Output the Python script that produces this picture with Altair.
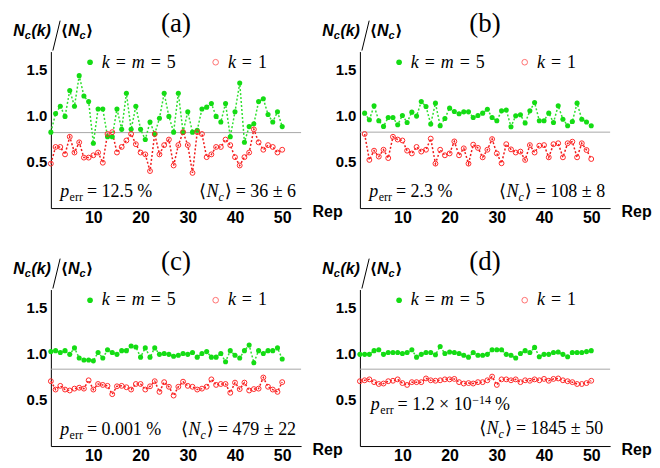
import altair as alt
import pandas as pd

# ---------------- data ----------------
REPS = list(range(1, 51))
REPS_B = list(range(2, 51))

A_GREEN = [0.82, 1.02, 1.10, 0.99, 1.27, 1.10, 1.43, 1.21, 1.15, 0.70,
           1.07, 1.07, 0.77, 0.77, 1.07, 0.85, 1.24, 0.85, 1.10, 0.85,
           0.74, 0.93, 0.80, 0.97, 1.24, 0.99, 0.82, 1.24, 0.82, 1.04,
           0.82, 0.84, 1.07, 1.09, 1.13, 0.99, 0.93, 1.13, 0.77, 1.04,
           1.35, 0.71, 0.88, 0.91, 1.15, 1.18, 1.01, 0.93, 1.04, 0.88]
A_RED = [0.48, 0.66, 0.66, 0.58, 0.77, 0.60, 0.71, 0.545, 0.545, 0.57,
         0.60, 0.49, 0.80, 0.82, 0.60, 0.66, 0.73, 0.80, 0.69, 0.60,
         0.58, 0.40, 0.80, 0.58, 0.68, 0.74, 0.46, 0.68, 0.82, 0.68,
         0.38, 0.82, 0.80, 0.55, 0.58, 0.66, 0.66, 0.74, 0.68, 0.55,
         0.46, 0.55, 0.60, 0.85, 0.71, 0.63, 0.68, 0.66, 0.60, 0.63]

B_GREEN = [1.025, 0.953, 1.104, 0.943, 0.882, 0.978, 0.978, 0.90, 1.0, 0.925,
           1.036, 0.993, 1.15, 1.097, 0.907, 1.133, 0.889, 0.968, 1.079, 1.043,
           1.018, 1.039, 1.039, 0.978, 1.0, 1.025, 1.068, 0.978, 0.943, 1.05,
           1.06, 0.878, 0.996, 1.007, 0.918, 1.05, 1.14, 0.943, 0.943, 1.025,
           0.925, 1.104, 0.96, 0.889, 0.935, 1.133, 0.96, 0.93, 0.889]
B_RED = [0.80, 0.52, 0.62, 0.556, 0.63, 0.54, 0.77, 0.74, 0.73, 0.62,
         0.59, 0.66, 0.61, 0.63, 0.75, 0.48, 0.63, 0.57, 0.59, 0.72,
         0.57, 0.645, 0.48, 0.685, 0.65, 0.548, 0.63, 0.745, 0.59, 0.484,
         0.69, 0.634, 0.60, 0.61, 0.52, 0.68, 0.60, 0.674, 0.68, 0.548,
         0.69, 0.70, 0.548, 0.70, 0.717, 0.548, 0.70, 0.627, 0.53]

C_GREEN = [1.02, 1.03, 1.01, 1.03, 0.99, 1.06, 0.95, 0.93, 0.93, 0.92,
           1.01, 0.95, 1.04, 1.01, 0.99, 1.03, 1.03, 1.08, 1.07, 0.96,
           1.06, 0.96, 1.06, 0.99, 1.00, 0.99, 0.97, 0.98, 1.00, 0.99,
           1.01, 0.96, 1.00, 1.02, 0.96, 0.96, 1.00, 0.91, 1.03, 0.98,
           0.95, 1.03, 1.09, 0.90, 1.03, 1.00, 1.03, 1.03, 1.06, 0.94]
C_RED = [0.70, 0.61, 0.65, 0.61, 0.60, 0.62, 0.63, 0.62, 0.71, 0.61,
         0.67, 0.66, 0.65, 0.56, 0.645, 0.65, 0.635, 0.61, 0.67, 0.67,
         0.61, 0.645, 0.70, 0.585, 0.69, 0.64, 0.545, 0.64, 0.695, 0.65,
         0.64, 0.61, 0.62, 0.64, 0.72, 0.66, 0.67, 0.67, 0.575, 0.685,
         0.615, 0.685, 0.60, 0.615, 0.62, 0.74, 0.64, 0.61, 0.585, 0.69]

D_GREEN = [0.99, 0.99, 0.99, 1.03, 1.04, 0.99, 1.01, 1.01, 1.01, 1.00,
           1.01, 1.04, 0.96, 0.99, 1.01, 1.01, 0.985, 1.075, 1.00, 1.015,
           1.01, 1.00, 0.98, 0.96, 1.01, 0.98, 0.98, 0.99, 1.04, 1.04,
           1.04, 0.99, 0.98, 0.95, 1.00, 1.03, 1.01, 1.065, 0.965, 0.99,
           0.99, 1.01, 1.015, 0.99, 0.965, 1.01, 1.01, 1.01, 1.02, 1.03]
D_RED = [0.70, 0.71, 0.72, 0.69, 0.67, 0.675, 0.70, 0.705, 0.72, 0.68,
         0.66, 0.69, 0.69, 0.69, 0.73, 0.71, 0.705, 0.71, 0.72, 0.72,
         0.725, 0.69, 0.675, 0.68, 0.675, 0.69, 0.69, 0.71, 0.75, 0.66,
         0.72, 0.72, 0.71, 0.72, 0.69, 0.71, 0.705, 0.72, 0.71, 0.725,
         0.705, 0.725, 0.73, 0.71, 0.70, 0.69, 0.67, 0.67, 0.68, 0.705]

PANEL_LABELS = ["(a)", "(b)", "(c)", "(d)"]
THRESHOLDS = [0.815, 0.82, 0.83, 0.83]
P_ERR = ["12.5 %", "2.3 %", "0.001 %", "1.2 × 10"]
P_ERR_SUP = ["", "", "", "−14"]
NC_MEAN = ["36 ± 6", "108 ± 8", "479 ± 22", "1845 ± 50"]
XTICKS = [10, 20, 30, 40, 50]
YTICKS = [0.5, 1.0, 1.5]

# ---------------- style ----------------
GREEN = "#14dc14"
GREEN_LINE = "#30e030"
RED = "#ff2a2a"
RED_LINE = "#f01c1c"
GRAY = "#a8a8a8"
SERIF = "Liberation Serif, Times New Roman, DejaVu Serif, serif"
SANS = "Liberation Sans, Arial, DejaVu Sans, sans-serif"
PW, PH = 251, 157

W = {
    "serif": {" ": .25, ".": .25, "=": .564, "±": .549, "×": .564, "%": .833,
              "(": .333, ")": .333, "−": .564, "e": .444, "r": .333,
              "⟨": .39, "⟩": .39},
    "serif_it": {"p": .5, "k": .444, "m": .722, "N": .667, "c": .444},
    "sans_bi": {"N": .722, "c": .556, "(": .333, "k": .556, ")": .333},
    "sans_b": {"⟨": .46, "⟩": .46},
}
STYLE = {
    "serif": (SERIF, "normal", "normal"),
    "serif_it": (SERIF, "italic", "normal"),
    "sans_bi": (SANS, "italic", "bold"),
    "sans_b": (SANS, "normal", "bold"),
}
ONE = pd.DataFrame({"o": [0]})


def seg_w(t, kind, size):
    return sum(W[kind].get(ch, 0.5) for ch in t) * size


def txt(t, kind, size, x, y, align="left"):
    font, style, weight = STYLE[kind]
    return alt.Chart(ONE).mark_text(
        text=t, font=font, fontSize=size, fontStyle=style, fontWeight=weight,
        align=align, baseline="alphabetic", color="black"
    ).encode(x=alt.value(round(x, 2)), y=alt.value(round(y, 2)))


def run(x0, y0, segs, anchor="left"):
    total = sum(g + seg_w(t, k, s) for t, k, s, dy, g in segs)
    x = x0 if anchor == "left" else x0 - total
    out = []
    for t, k, s, dy, g in segs:
        x += g
        out.append(txt(t, k, s, x, y0 + dy))
        x += seg_w(t, k, s)
    return out


xscale = alt.Scale(domain=[1, 54], nice=False, zero=False)
yscale = alt.Scale(domain=[0, 1.69], nice=False, zero=False)
xaxis = alt.Axis(values=XTICKS, title="Rep", titleX=262, titleY=3, titleAlign="left",
                 titleBaseline="middle", titleAngle=0, titleFont=SANS, titleFontSize=16,
                 titleFontWeight="bold", titleColor="black",
                 labelFont=SANS, labelFontSize=16, labelFontWeight="bold", labelColor="black",
                 labelPadding=1, ticks=False, tickSize=0, grid=False,
                 domainColor="black", domainWidth=1, labelFlush=False)
yaxis = alt.Axis(values=YTICKS, format=".1f", title=None,
                 labelFont=SANS, labelFontSize=15, labelFontWeight="bold", labelColor="black",
                 labelPadding=4, ticks=False, tickSize=0, grid=False,
                 domainColor="black", domainWidth=1)


def panel(i, reps, green, red):
    X = alt.X("rep:Q", scale=xscale, axis=xaxis)
    Y = alt.Y("value:Q", scale=yscale, axis=yaxis)
    gdf = pd.DataFrame({"rep": reps, "value": green})
    rdf = pd.DataFrame({"rep": reps, "value": red})
    rule = alt.Chart(pd.DataFrame({"value": [THRESHOLDS[i]]})).mark_rule(
        color=GRAY, strokeWidth=1).encode(y=Y)
    gline = alt.Chart(gdf).mark_line(color=GREEN_LINE, strokeWidth=1.5,
                                     strokeDash=[2, 2]).encode(x=X, y=Y)
    rline = alt.Chart(rdf).mark_line(color=RED_LINE, strokeWidth=1.5,
                                     strokeDash=[2, 2]).encode(x=X, y=Y)
    gpts = alt.Chart(gdf).mark_circle(color=GREEN, size=26, opacity=1).encode(x=X, y=Y)
    rpts = alt.Chart(rdf).mark_point(shape="circle", filled=False, color=RED, size=24,
                                     strokeWidth=1, opacity=1).encode(x=X, y=Y)
    layers = [rule, gline, rline, gpts, rpts]

    # legend
    layers.append(alt.Chart(ONE).mark_circle(color=GREEN, size=32, opacity=1)
                  .encode(x=alt.value(39.3), y=alt.value(10.7)))
    layers.append(alt.Chart(ONE).mark_point(shape="circle", filled=False, color="#ff7070",
                                            size=32, strokeWidth=1, opacity=1)
                  .encode(x=alt.value(165.3), y=alt.value(10.7)))
    layers += run(51, 16, [("k", "serif_it", 18, 0, 0), ("=", "serif", 18, 0, 6),
                           ("m", "serif_it", 18, 0, 6), ("=", "serif", 18, 0, 6),
                           ("5", "serif", 18, 0, 6)])
    layers += run(177.6, 16, [("k", "serif_it", 18, 0, 0), ("=", "serif", 18, 0, 6),
                              ("1", "serif", 18, 0, 6)])

    # panel label
    layers.append(txt(PANEL_LABELS[i], "serif", 27, PW / 2, -20, align="center"))

    # y axis title  N_c(k) / <N_c>
    layers += run(-37.7, -16, [("N", "sans_bi", 16, 0, 0), ("c", "sans_bi", 11, 3, 0),
                               ("(k)", "sans_bi", 16, 0, 0.5)])
    layers.append(alt.Chart(ONE).mark_rule(color="black", strokeWidth=1).encode(
        x=alt.value(2), y=alt.value(-1), x2=alt.value(9.3), y2=alt.value(-31)))
    layers += run(9.8, -16, [("⟨", "sans_b", 16, 0, 0), ("N", "sans_bi", 16, 0, 0),
                             ("c", "sans_bi", 11, 3, 0), ("⟩", "sans_b", 16, 0, 0.5)])

    # p_err annotation
    if P_ERR_SUP[i]:
        px, py = 11, 121
        segs = [("p", "serif_it", 18, 0, 0), ("err", "serif", 12, 4, 0.5),
                ("= " + P_ERR[i], "serif", 18, 0, 4),
                (P_ERR_SUP[i], "serif", 12, -6, 0.5), ("%", "serif", 18, 0, 4)]
        nx, ny = 244, 145
    else:
        px, py = 9.3, 146
        segs = [("p", "serif_it", 18, 0, 0), ("err", "serif", 12, 4, 0.5),
                ("= " + P_ERR[i], "serif", 18, 0, 4)]
        nx, ny = 246, 146
    layers += run(px, py, segs)
    layers += run(nx, ny, [("⟨", "serif", 18, 0, 0), ("N", "serif_it", 18, 0, 0.5),
                           ("c", "serif_it", 12, 4, 0), ("⟩", "serif", 18, 0, 1),
                           ("= " + NC_MEAN[i], "serif", 18, 0, 4)], anchor="right")

    return alt.layer(*layers).properties(width=PW, height=PH)


pa = panel(0, REPS, A_GREEN, A_RED)
pb = panel(1, REPS_B, B_GREEN, B_RED)
pc = panel(2, REPS, C_GREEN, C_RED)
pd_ = panel(3, REPS, D_GREEN, D_RED)

chart = alt.concat(pa, pb, pc, pd_, columns=2,
                   spacing={"row": 81.7, "column": 59}, bounds="flush").configure_view(
    stroke=None).properties(padding={"left": 5, "top": 1, "right": 0, "bottom": 0},
                            background="white")

chart.save("out.html", embed_options={"renderer": "svg", "actions": False})
